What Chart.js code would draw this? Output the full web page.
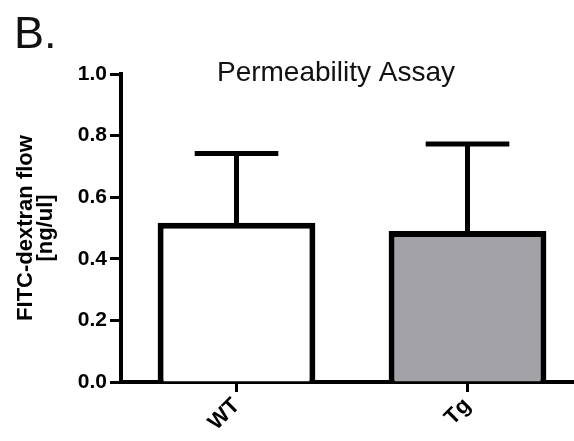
<!DOCTYPE html>
<html>
<head>
<meta charset="utf-8">
<script src="https://cdn.jsdelivr.net/npm/chart.js@4/dist/chart.umd.min.js"></script>
<style>
  html, body { margin: 0; padding: 0; background: #ffffff; overflow: hidden; }
  #wrap { width: 574px; height: 441px; overflow: hidden; position: relative; }
  #box { width: 600px; height: 441px; position: absolute; left: 0; top: 0; }
</style>
</head>
<body>
<div id="wrap"><div id="box"><canvas id="c" width="600" height="441"></canvas></div></div>
<script>
// ---- data ----
const categories = ['WT', 'Tg'];
const meanValues = [0.517, 0.490];
const errorUpper = [0.225, 0.283];
const barColors = ['#ffffff', '#a3a2a7'];
const yTicks = [0.0, 0.2, 0.4, 0.6, 0.8, 1.0];
const panelLabel = 'B.';
const chartTitle = 'Permeability Assay';
const yAxisTitle = ['FITC-dextran flow', '[ng/ul]'];

Chart.defaults.font.family = "'Liberation Sans', Arial, Helvetica, sans-serif";
Chart.defaults.color = '#000000';

const errorBarPlugin = {
  id: 'errorBars',
  afterDatasetsDraw(chart) {
    const meta = chart.getDatasetMeta(0);
    const y = chart.scales.y;
    const ctx = chart.ctx;
    ctx.save();
    ctx.strokeStyle = '#000000';
    ctx.lineWidth = 5;
    ctx.lineCap = 'butt';
    meta.data.forEach((bar, i) => {
      const x = bar.x;
      const yTop = y.getPixelForValue(meanValues[i] + errorUpper[i]);
      const yBase = y.getPixelForValue(meanValues[i]);
      const half = bar.width * 0.265;
      ctx.beginPath();
      ctx.moveTo(x, yBase + 2);
      ctx.lineTo(x, yTop);
      ctx.moveTo(x - half, yTop);
      ctx.lineTo(x + half, yTop);
      ctx.stroke();
    });
    ctx.restore();
  }
};

const textPlugin = {
  id: 'panelText',
  afterDraw(chart) {
    const ctx = chart.ctx;
    ctx.save();
    ctx.fillStyle = '#111111';
    ctx.textBaseline = 'alphabetic';
    ctx.textAlign = 'left';
    ctx.font = "45px 'Liberation Sans', Arial, sans-serif";
    ctx.fillText(panelLabel, 14, 48);
    ctx.textAlign = 'center';
    ctx.font = "28px 'Liberation Sans', Arial, sans-serif";
    ctx.fillText(chartTitle, 336, 81);
    ctx.restore();
  }
};

new Chart(document.getElementById('c'), {
  type: 'bar',
  data: {
    labels: categories,
    datasets: [{
      data: meanValues,
      backgroundColor: barColors,
      borderColor: '#000000',
      borderWidth: 6,
      borderSkipped: 'start',
      categoryPercentage: 1.0,
      barPercentage: 0.683
    }]
  },
  options: {
    responsive: false,
    animation: false,
    events: [],
    layout: { padding: { top: 74, right: 17, left: 0, bottom: 0 } },
    plugins: {
      legend: { display: false },
      tooltip: { enabled: false },
      title: { display: false }
    },
    scales: {
      x: {
        offset: true,
        grid: {
          offset: false,
          drawOnChartArea: false,
          drawTicks: true,
          tickLength: 10,
          tickWidth: 3,
          tickColor: '#000000'
        },
        border: { display: true, color: '#000000', width: 4 },
        ticks: {
          maxRotation: 45,
          minRotation: 45,
          padding: 1,
          color: '#000000',
          font: { size: 22, weight: 'bold' }
        },
        afterFit(scale) { scale.height = 59; }
      },
      y: {
        min: 0,
        max: 1,
        afterBuildTicks(scale) { scale.ticks = yTicks.map(v => ({ value: v })); },
        grid: {
          drawOnChartArea: false,
          drawTicks: true,
          tickLength: 11,
          tickWidth: 3,
          tickColor: '#000000'
        },
        border: { display: true, color: '#000000', width: 4 },
        ticks: {
          padding: 3,
          color: '#000000',
          font: { size: 21, weight: 'bold' },
          callback: (v) => Number(v).toFixed(1)
        },
        title: {
          display: true,
          text: yAxisTitle,
          color: '#000000',
          font: { size: 22, weight: 'bold', lineHeight: 0.92 },
          padding: { top: 16, bottom: 0 }
        },
        afterFit(scale) { scale.width = 121; }
      }
    }
  },
  plugins: [errorBarPlugin, textPlugin]
});
</script>
</body>
</html>
